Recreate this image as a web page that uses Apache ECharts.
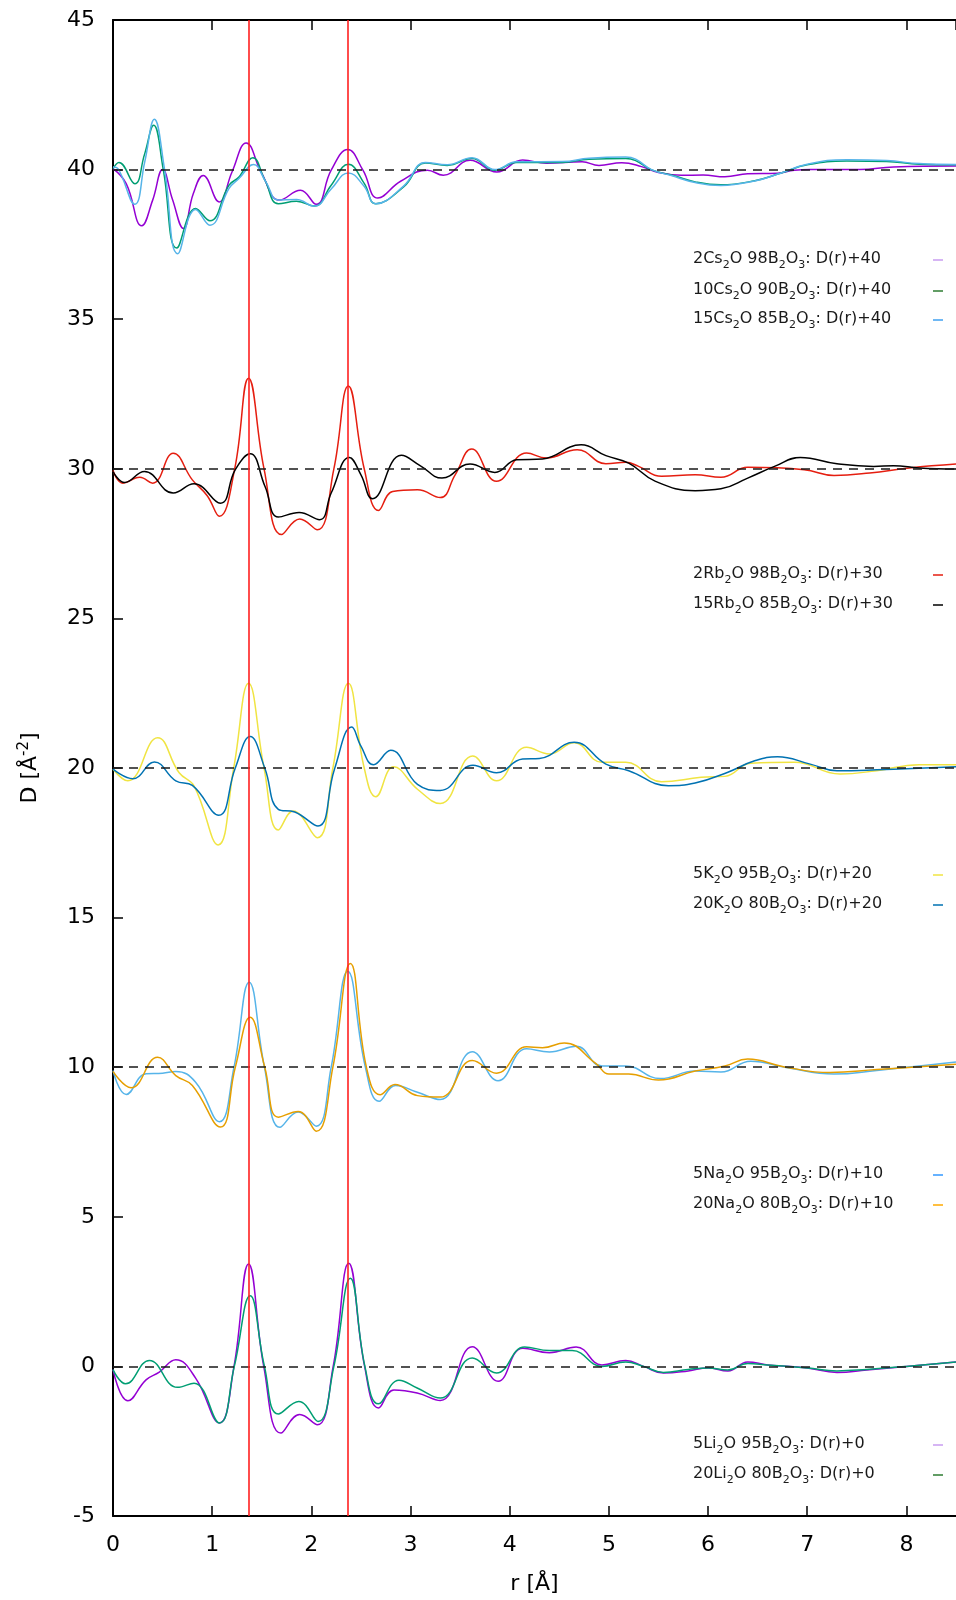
<!DOCTYPE html>
<html>
<head>
<meta charset="utf-8">
<script src="https://cdn.jsdelivr.net/npm/echarts@6/dist/echarts.min.js"></script>
<style>
html,body{margin:0;padding:0;background:#fff;}
#chart{width:956px;height:1600px;}
</style>
</head>
<body>
<div id="chart"></div>
<script>
// ---- data (r [Å], plotted value D(r)+offset) ----
var yTicks = [-5, 0, 5, 10, 15, 20, 25, 30, 35, 40, 45];
var xTicks = [0, 1, 2, 3, 4, 5, 6, 7, 8];
var refLines = [1.373, 2.373];
var baselines = [0, 10, 20, 30, 40];

var cs2 = [[0,40.03],[0.133,39.53],[0.29,38.12],[0.4,38.98],[0.5,40.0],[0.6,39.0],[0.71,38.03],[0.81,39.2],[0.91,39.8],[1.07,38.92],[1.2,39.92],[1.343,40.89],[1.5,39.87],[1.68,38.98],[1.89,39.31],[2.05,38.84],[2.2,39.98],[2.367,40.67],[2.52,39.98],[2.67,39.05],[2.9,39.61],[3.17,39.98],[3.33,39.81],[3.6,40.31],[3.87,39.92],[4.13,40.32],[4.37,40.21],[4.73,40.26],[4.9,40.14],[5.13,40.23],[5.33,40.1],[5.5,39.9],[5.73,39.81],[5.95,39.82],[6.17,39.76],[6.4,39.86],[6.7,39.88],[6.87,39.98],[7.03,40.0],[7.53,40.0],[7.87,40.09],[8.5,40.12]];
var cs10 = [[0,40.03],[0.06,40.24],[0.22,39.53],[0.317,40.5],[0.41,41.48],[0.507,40.0],[0.643,37.38],[0.833,38.7],[0.977,38.29],[1.17,39.48],[1.27,39.75],[1.41,40.4],[1.533,39.64],[1.667,38.86],[1.85,38.94],[2.03,38.78],[2.2,39.48],[2.373,40.18],[2.533,39.54],[2.65,38.86],[2.93,39.42],[3.15,40.22],[3.37,40.14],[3.62,40.37],[3.85,39.98],[4.07,40.24],[4.53,40.24],[4.8,40.35],[5.17,40.37],[5.27,40.3],[5.43,39.99],[5.63,39.82],[5.87,39.59],[6.13,39.49],[6.47,39.63],[6.73,39.88],[7.0,40.16],[7.4,40.29],[7.8,40.27],[8.13,40.18],[8.5,40.16]];
var cs15 = [[0,40.09],[0.05,40.03],[0.22,38.84],[0.32,40.26],[0.417,41.68],[0.52,40.0],[0.653,37.19],[0.833,38.67],[0.977,38.14],[1.17,39.37],[1.27,39.7],[1.417,40.17],[1.54,39.6],[1.667,38.98],[1.85,39.0],[2.03,38.78],[2.2,39.35],[2.373,39.89],[2.53,39.45],[2.65,38.86],[2.93,39.45],[3.15,40.24],[3.37,40.16],[3.62,40.4],[3.85,40.0],[4.07,40.26],[4.53,40.27],[4.8,40.38],[5.17,40.42],[5.27,40.35],[5.43,40.0],[5.63,39.8],[5.87,39.57],[6.13,39.47],[6.47,39.62],[6.73,39.88],[7.0,40.18],[7.4,40.33],[7.8,40.3],[8.13,40.2],[8.5,40.17]];

var rb2 = [[0,29.94],[0.1,29.52],[0.27,29.72],[0.4,29.52],[0.607,30.52],[0.8,29.63],[0.95,29.1],[1.073,28.41],[1.227,30.0],[1.367,33.03],[1.523,30.0],[1.7,27.8],[1.883,28.32],[2.06,27.96],[2.227,30.0],[2.373,32.77],[2.533,30.0],[2.677,28.61],[2.82,29.24],[3.07,29.3],[3.3,29.04],[3.45,29.8],[3.617,30.66],[3.867,29.58],[4.17,30.53],[4.37,30.36],[4.68,30.64],[4.97,30.17],[5.17,30.22],[5.3,30.08],[5.53,29.75],[5.87,29.8],[6.13,29.72],[6.4,30.05],[6.97,29.97],[7.27,29.78],[7.63,29.86],[8.03,30.03],[8.5,30.16]];
var rb15 = [[0,29.91],[0.117,29.54],[0.317,29.91],[0.607,29.19],[0.817,29.5],[1.083,28.85],[1.233,29.97],[1.383,30.5],[1.533,29.41],[1.667,28.39],[1.877,28.54],[2.083,28.3],[2.2,29.19],[2.383,30.38],[2.5,29.8],[2.617,29.0],[2.907,30.45],[3.1,30.1],[3.317,29.69],[3.6,30.16],[3.85,29.88],[4.07,30.3],[4.33,30.33],[4.72,30.8],[4.97,30.44],[5.2,30.19],[5.47,29.58],[5.87,29.27],[6.13,29.33],[6.4,29.69],[6.67,30.08],[6.93,30.38],[7.3,30.17],[7.67,30.08],[7.87,30.1],[8.13,30.03],[8.5,29.99]];

var k5 = [[0,19.96],[0.15,19.57],[0.45,21.01],[0.667,19.84],[0.817,19.4],[1.06,17.43],[1.217,20.0],[1.367,22.83],[1.523,20.0],[1.667,17.93],[1.817,18.56],[2.06,17.67],[2.217,20.0],[2.373,22.83],[2.533,20.0],[2.65,19.04],[2.83,20.04],[3.07,19.29],[3.3,18.81],[3.627,20.4],[3.867,19.57],[4.17,20.69],[4.4,20.47],[4.65,20.84],[4.93,20.19],[5.17,20.19],[5.53,19.54],[5.93,19.69],[6.17,19.72],[6.43,20.16],[6.87,20.19],[7.33,19.8],[7.7,19.91],[8.13,20.11],[8.5,20.11]];
var k20 = [[0,19.96],[0.2,19.64],[0.417,20.2],[0.633,19.57],[0.8,19.42],[1.067,18.42],[1.233,20.0],[1.383,21.05],[1.53,20.0],[1.667,18.62],[1.833,18.53],[2.067,18.06],[2.233,19.96],[2.407,21.37],[2.5,20.73],[2.627,20.11],[2.8,20.59],[3.07,19.45],[3.3,19.25],[3.63,20.09],[3.867,19.84],[4.13,20.3],[4.3,20.32],[4.65,20.86],[4.97,20.13],[5.2,19.91],[5.6,19.41],[5.87,19.5],[6.2,19.86],[6.47,20.24],[6.7,20.38],[7.03,20.13],[7.3,19.91],[7.7,19.94],[8.5,20.04]];

var na5 = [[0,9.89],[0.133,9.09],[0.333,9.78],[0.5,9.8],[0.633,9.86],[0.833,9.5],[1.073,8.18],[1.22,10.0],[1.373,12.84],[1.527,10.0],[1.683,7.99],[1.867,8.5],[2.05,8.03],[2.2,10.0],[2.367,13.21],[2.545,10.0],[2.683,8.86],[2.85,9.39],[3.07,9.16],[3.3,8.92],[3.623,10.52],[3.883,9.55],[4.17,10.62],[4.4,10.51],[4.67,10.7],[4.93,10.04],[5.17,10.04],[5.52,9.62],[5.87,9.87],[6.13,9.84],[6.43,10.2],[6.8,9.98],[7.27,9.77],[7.7,9.89],[8.5,10.17]];
var na20 = [[0,9.86],[0.183,9.31],[0.45,10.33],[0.633,9.72],[0.8,9.39],[1.083,8.0],[1.233,10.0],[1.383,11.67],[1.53,10.0],[1.667,8.33],[1.867,8.52],[2.05,7.86],[2.217,10.0],[2.393,13.47],[2.555,10.0],[2.693,9.08],[2.843,9.42],[3.07,9.05],[3.3,9.0],[3.623,10.22],[3.867,9.8],[4.17,10.68],[4.33,10.65],[4.55,10.81],[4.87,10.12],[5.0,9.77],[5.2,9.77],[5.5,9.57],[5.87,9.87],[6.17,10.04],[6.4,10.27],[6.77,10.01],[7.23,9.82],[7.7,9.92],[8.5,10.1]];

var li5 = [[0,-0.11],[0.15,-1.15],[0.333,-0.45],[0.467,-0.19],[0.633,0.22],[0.833,-0.39],[1.073,-1.89],[1.22,0.0],[1.367,3.42],[1.52,0.0],[1.693,-2.23],[1.883,-1.61],[2.06,-1.95],[2.22,0.0],[2.377,3.45],[2.537,0.0],[2.677,-1.39],[2.833,-0.79],[3.067,-0.89],[3.3,-1.14],[3.623,0.66],[3.883,-0.5],[4.133,0.61],[4.4,0.46],[4.67,0.65],[4.93,0.05],[5.17,0.2],[5.35,0.0],[5.55,-0.22],[5.8,-0.15],[6.0,-0.05],[6.2,-0.15],[6.4,0.15],[6.6,0.05],[7.0,-0.05],[7.3,-0.2],[7.6,-0.12],[8.0,0.0],[8.5,0.15]];
var li20 = [[0,-0.11],[0.127,-0.58],[0.367,0.2],[0.65,-0.7],[0.817,-0.56],[1.073,-1.89],[1.223,0.0],[1.383,2.36],[1.527,0.0],[1.667,-1.59],[1.873,-1.17],[2.067,-1.84],[2.227,0.0],[2.393,2.95],[2.54,0.0],[2.677,-1.25],[2.883,-0.46],[3.067,-0.72],[3.3,-1.06],[3.623,0.28],[3.867,-0.22],[4.15,0.65],[4.4,0.53],[4.63,0.53],[4.93,0.0],[5.17,0.15],[5.35,0.0],[5.55,-0.2],[5.8,-0.1],[6.0,-0.05],[6.2,-0.12],[6.4,0.1],[6.6,0.05],[7.0,-0.05],[7.3,-0.15],[7.6,-0.1],[8.0,0.0],[8.5,0.15]];

var seriesNames = [
  '2Cs{s|2}O 98B{s|2}O{s|3}: D(r)+40',
  '10Cs{s|2}O 90B{s|2}O{s|3}: D(r)+40',
  '15Cs{s|2}O 85B{s|2}O{s|3}: D(r)+40',
  '2Rb{s|2}O 98B{s|2}O{s|3}: D(r)+30',
  '15Rb{s|2}O 85B{s|2}O{s|3}: D(r)+30',
  '5K{s|2}O 95B{s|2}O{s|3}: D(r)+20',
  '20K{s|2}O 80B{s|2}O{s|3}: D(r)+20',
  '5Na{s|2}O 95B{s|2}O{s|3}: D(r)+10',
  '20Na{s|2}O 80B{s|2}O{s|3}: D(r)+10',
  '5Li{s|2}O 95B{s|2}O{s|3}: D(r)+0',
  '20Li{s|2}O 80B{s|2}O{s|3}: D(r)+0'
];
var seriesData = [cs2, cs10, cs15, rb2, rb15, k5, k20, na5, na20, li5, li20];
var seriesColors = ['#9400d3','#009e73','#56b4e9','#e51e10','#000000','#f0e442','#0072b2','#56b4e9','#e69f00','#9400d3','#009e73'];
var keyColors = ['#c89cf0','#2e7d32','#3fa0f0','#e51e10','#000000','#f0e442','#0072b2','#3399ff','#ffaa00','#c89cf0','#2e7d32'];
var keyY = [260, 291, 320, 575, 605, 875, 905, 1175, 1205, 1445, 1475];

var FONT = 'DejaVu Sans';
var chart = echarts.init(document.getElementById('chart'), null, {renderer: 'canvas'});

var series = seriesData.map(function (d, i) {
  return {
    type: 'line',
    name: seriesNames[i],
    data: d,
    smooth: 0.45,
    showSymbol: false,
    symbol: 'none',
    lineStyle: {color: seriesColors[i], width: 1.5},
    z: 2,
    animation: false
  };
});

// reference lines: dashed baselines and red vertical lines
series.push({
  type: 'line',
  data: [],
  z: 5,
  animation: false,
  markLine: {
    silent: true,
    symbol: ['none', 'none'],
    label: {show: false},
    animation: false,
    data: baselines.map(function (v) {
      return {yAxis: v, lineStyle: {color: '#1a1a1a', width: 1.6, type: [9, 7]}};
    }).concat(refLines.map(function (v) {
      return {xAxis: v, lineStyle: {color: '#ff2020', width: 1.6, type: 'solid'}};
    }))
  }
});

var graphics = [];
seriesNames.forEach(function (n, i) {
  graphics.push({
    type: 'text',
    left: 693,
    top: keyY[i] - 13,
    style: {
      text: n,
      fill: '#1a1a1a',
      font: '16px "' + FONT + '"',
      rich: {
        s: {fontSize: 11, fontFamily: FONT, verticalAlign: 'bottom', lineHeight: 12, fill: '#1a1a1a'}
      },
      lineHeight: 24
    },
    z: 10
  });
  graphics.push({
    type: 'line',
    shape: {x1: 933, y1: keyY[i], x2: 943, y2: keyY[i]},
    style: {stroke: keyColors[i], lineWidth: 1.5},
    z: 10
  });
});

var axisCommon = {
  axisLine: {show: true, onZero: false, lineStyle: {color: '#000', width: 2}},
  axisTick: {show: true, inside: true, length: 10, lineStyle: {color: '#000', width: 1.5}},
  splitLine: {show: false}
};

chart.setOption({
  backgroundColor: '#fff',
  animation: false,
  grid: {left: 113, top: 20, right: -7, bottom: 83, containLabel: false},
  xAxis: [
    Object.assign({
      type: 'value', position: 'bottom', min: 0, max: 8.5, interval: 1,
      name: 'r [Å]', nameLocation: 'middle', nameGap: 57,
      nameTextStyle: {fontFamily: FONT, fontSize: 22, color: '#000'},
      axisLabel: {
        fontFamily: FONT, fontSize: 22, color: '#000', margin: 18,
        showMaxLabel: false,
        formatter: function (v) { return xTicks.indexOf(v) >= 0 ? String(v) : ''; }
      }
    }, axisCommon),
    Object.assign({
      type: 'value', position: 'top', min: 0, max: 8.5, interval: 1,
      axisLabel: {show: false}
    }, axisCommon)
  ],
  yAxis: Object.assign({
    type: 'value', min: -5, max: 45, interval: 5,
    name: 'D [Å{sup|-2}]', nameLocation: 'middle', nameGap: 70, nameRotate: 90,
    nameTextStyle: {
      fontFamily: FONT, fontSize: 22, color: '#000',
      rich: {sup: {fontFamily: FONT, fontSize: 15, verticalAlign: 'top', lineHeight: 15, color: '#000'}},
      lineHeight: 26
    },
    axisLabel: {
      fontFamily: FONT, fontSize: 22, color: '#000', margin: 18,
      formatter: function (v) { return yTicks.indexOf(v) >= 0 ? String(v) : ''; }
    }
  }, axisCommon),
  series: series,
  graphic: graphics
});
</script>
</body>
</html>
